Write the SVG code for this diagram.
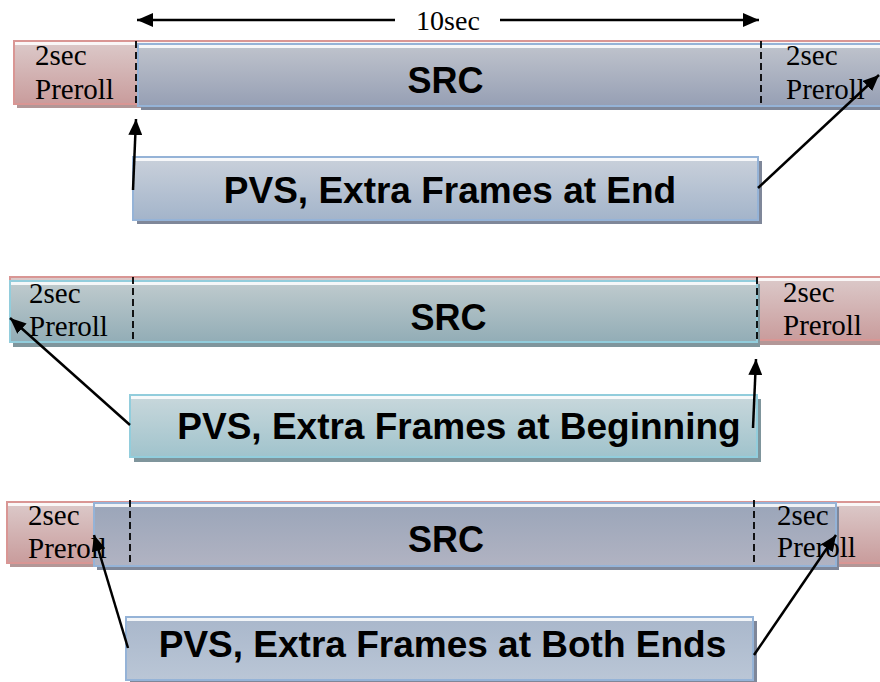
<svg xmlns="http://www.w3.org/2000/svg" width="880" height="682" viewBox="0 0 880 682">
<style>
.lbl{font-family:"Liberation Serif","Times New Roman",serif;font-size:29px;fill:#000}
.src{font-family:"Liberation Sans",Arial,sans-serif;font-size:36px;font-weight:bold;fill:#000;text-anchor:middle}
.pvs{font-family:"Liberation Sans",Arial,sans-serif;font-size:37px;font-weight:bold;fill:#000;text-anchor:middle}
.red{fill:url(#gRed);stroke:#d99694;stroke-width:2}
.blue{fill:url(#gBlue);stroke:#95b3d7;stroke-width:2}
.blue3{fill:url(#gBlue3);stroke:#95b3d7;stroke-width:2}
.teal{fill:url(#gTeal);stroke:#92cddc;stroke-width:2}
.b1{fill:url(#gBox1);stroke:#95b3d7;stroke-width:2}
.b2{fill:url(#gBox2);stroke:#92cddc;stroke-width:2}
.b3{fill:url(#gBox3);stroke:#95b3d7;stroke-width:2}
.shR{fill:#b39797}
.shB{fill:#7f8799}
.shT{fill:#7f959c}
.hl{fill:#ffffff;opacity:0.85}
.dash{stroke:#000;stroke-width:1.8;stroke-dasharray:7 4;fill:none}
.arr{stroke:#000;stroke-width:2.5;fill:none;marker-end:url(#ah)}
</style>
<defs>
<linearGradient id="gRed" x1="0" y1="0" x2="0" y2="1"><stop offset="0" stop-color="#dccaca"/><stop offset="1" stop-color="#c99c9c"/></linearGradient>
<linearGradient id="gBlue" x1="0" y1="0" x2="0" y2="1"><stop offset="0" stop-color="#c0c4cd"/><stop offset="1" stop-color="#969fb4"/></linearGradient>
<linearGradient id="gBlue3" x1="0" y1="0" x2="0" y2="1"><stop offset="0" stop-color="#9aa5b9"/><stop offset="1" stop-color="#b1b3c2"/></linearGradient>
<linearGradient id="gTeal" x1="0" y1="0" x2="0" y2="1"><stop offset="0" stop-color="#c0cbce"/><stop offset="1" stop-color="#92adb6"/></linearGradient>
<linearGradient id="gBox1" x1="0" y1="0" x2="0" y2="1"><stop offset="0" stop-color="#cad1db"/><stop offset="1" stop-color="#a3b4ca"/></linearGradient>
<linearGradient id="gBox2" x1="0" y1="0" x2="0" y2="1"><stop offset="0" stop-color="#c9d8dc"/><stop offset="1" stop-color="#a0c3cc"/></linearGradient>
<linearGradient id="gBox3" x1="0" y1="0" x2="0" y2="1"><stop offset="0" stop-color="#a9b7cb"/><stop offset="1" stop-color="#bac6d6"/></linearGradient>
<marker id="ah" markerUnits="userSpaceOnUse" markerWidth="18" markerHeight="14" refX="16" refY="7" orient="auto"><path d="M0,0 L16,7 L0,14 Z" fill="#000"/></marker>
</defs>

<!-- Row 1 -->
<g id="row1-preroll">
<rect class="shR" x="17" y="45" width="880" height="63"/>
<rect class="red" x="14" y="41" width="880" height="63"/>
<rect class="hl" x="15" y="42" width="878" height="3"/>
<text class="lbl" x="35" y="65">2sec</text>
<text class="lbl" x="35" y="99">Preroll</text>
</g>
<g id="row1-pvs-bar">
<rect class="shB" x="141" y="47" width="760" height="63"/>
<rect class="blue" x="138" y="44" width="760" height="62"/>
<rect class="hl" x="139" y="45" width="758" height="3"/>
<text class="src" x="445.5" y="93">SRC</text>
<text class="lbl" x="786" y="65">2sec</text>
<text class="lbl" x="786" y="99">Preroll</text>
</g>
<g id="row1-box">
<rect class="shB" x="137" y="161" width="625" height="63"/>
<rect class="b1" x="133" y="157" width="625" height="63"/>
<rect class="hl" x="134" y="158" width="623" height="3"/>
<text class="pvs" x="450" y="203">PVS, Extra Frames at End</text>
</g>

<!-- Row 2 -->
<g id="row2-preroll">
<rect class="shR" x="13" y="281" width="880" height="64"/>
<rect class="red" x="10" y="277" width="880" height="63"/>
<rect class="hl" x="758" y="278" width="122" height="3"/>
<text class="lbl" x="783" y="302">2sec</text>
<text class="lbl" x="783" y="335">Preroll</text>
</g>
<g id="row2-pvs-bar">
<rect class="shT" x="13" y="284" width="747" height="63"/>
<rect class="teal" x="10" y="281" width="747" height="61"/>
<rect class="hl" x="11" y="282" width="745" height="3"/>
<text class="src" x="448.5" y="330">SRC</text>
<text class="lbl" x="29" y="303">2sec</text>
<text class="lbl" x="29" y="336">Preroll</text>
</g>
<g id="row2-box">
<rect class="shT" x="134" y="399" width="627" height="63"/>
<rect class="b2" x="130" y="395" width="627" height="62"/>
<rect class="hl" x="131" y="396" width="625" height="3"/>
<text class="pvs" x="459" y="439">PVS, Extra Frames at Beginning</text>
</g>

<!-- Row 3 -->
<g id="row3-preroll">
<rect class="shR" x="10" y="505" width="880" height="62"/>
<rect class="red" x="7" y="502" width="880" height="61"/>
<rect class="hl" x="8" y="503" width="872" height="3"/>
</g>
<g id="row3-pvs-bar">
<rect class="shB" x="97" y="507" width="742" height="63"/>
<rect class="blue3" x="94" y="503" width="742" height="63"/>
<rect class="hl" x="95" y="504" width="740" height="3"/>
<text class="src" x="446" y="552">SRC</text>
</g>
<g id="row3-preroll-labels">
<text class="lbl" x="28" y="525">2sec</text>
<text class="lbl" x="28" y="558">Preroll</text>
<text class="lbl" x="777" y="525">2sec</text>
<text class="lbl" x="777" y="557">Preroll</text>
</g>
<g id="row3-box">
<rect class="shB" x="130" y="621" width="627" height="63"/>
<rect class="b3" x="126" y="617" width="627" height="63"/>
<rect class="hl" x="127" y="618" width="625" height="3"/>
<text class="pvs" x="442.5" y="657">PVS, Extra Frames at Both Ends</text>
</g>

<!-- Dashed markers -->
<g id="dividers">
<line class="dash" x1="136" y1="41" x2="136" y2="105"/>
<line class="dash" x1="761" y1="41" x2="761" y2="105"/>
<line class="dash" x1="133" y1="277" x2="133" y2="342"/>
<line class="dash" x1="757" y1="277" x2="757" y2="342"/>
<line class="dash" x1="130" y1="500" x2="130" y2="564"/>
<line class="dash" x1="754" y1="500" x2="754" y2="564"/>
</g>

<!-- 10sec dimension -->
<g id="dimension">
<line class="arr" x1="395" y1="20" x2="137" y2="20"/>
<line class="arr" x1="500" y1="20" x2="759" y2="20"/>
<text class="lbl" x="448" y="30" text-anchor="middle" style="font-size:28px">10sec</text>
</g>

<g id="connectors">
<line class="arr" x1="133" y1="190" x2="136" y2="119"/>
<line class="arr" x1="758" y1="188" x2="879" y2="75"/>
<line class="arr" x1="130" y1="425" x2="10" y2="318"/>
<line class="arr" x1="753" y1="428" x2="756" y2="359"/>
<line class="arr" x1="128" y1="648" x2="94" y2="535"/>
<line class="arr" x1="754" y1="655" x2="836" y2="535"/>
</g>
</svg>
